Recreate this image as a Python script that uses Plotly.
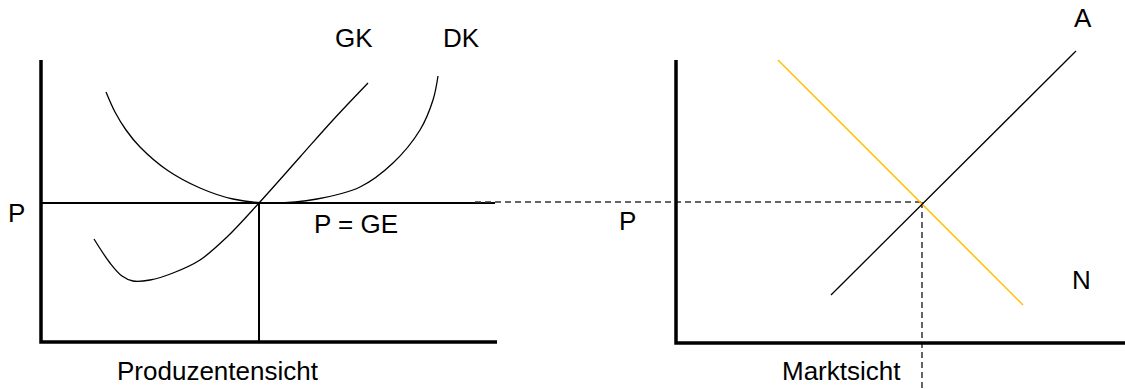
import plotly.graph_objects as go

# coordinate frame: x to the right, y upwards, one unit per screen pixel
W, H = 1125, 389

# left panel (Produzentensicht)
ax_left_x = [41, 41, 497]
ax_left_y = [329, 47, 47]
p_level = 186
q_star = 259
p_line_x = [41, 495]
q_line_y = [p_level, 47]

gk_x = [94, 110, 122, 133, 150, 173, 200, 227, 259, 300, 333, 368]
gk_y = [150, 126, 113, 108, 109, 116, 129, 152, 186, 232, 269, 306]

dk_x = [106, 115, 126, 140, 167, 200, 233, 273, 317, 360, 393, 420, 433, 438]
dk_y = [297, 277, 259, 242, 219, 201, 190, 186, 190, 202, 226, 259, 289, 313]

# right panel (Marktsicht)
ax_right_x = [676, 676, 1125]
ax_right_y = [329, 46, 46]
n_x = [778, 1023]
n_y = [329, 84]
a_x = [831, 1076]
a_y = [94, 338]
eq_x, eq_y = 922, 187
dash_h_x = [475, eq_x]
dash_v_y = [eq_y, 0]

# labels
label_text = ["GK", "DK", "P", "P = GE", "Produzentensicht", "P", "Marktsicht", "A", "N"]
label_x = [354, 461, 16, 356, 218, 627, 841, 1083, 1081]
label_y = [351, 351, 176, 165, 18, 168, 18, 371, 109]

fig = go.Figure()

black_thin = dict(color="black", width=1.3)

def add_line(x, y, line):
    fig.add_trace(go.Scatter(x=x, y=y, mode="lines", line=line, hoverinfo="skip"))

add_line(ax_left_x, ax_left_y, dict(color="black", width=3.5))
add_line(p_line_x, [p_level, p_level], dict(color="black", width=2.2))
add_line([q_star, q_star], q_line_y, dict(color="black", width=2))
add_line(gk_x, gk_y, dict(color="black", width=1.3, shape="spline", smoothing=1))
add_line(dk_x, dk_y, dict(color="black", width=1.3, shape="spline", smoothing=1))

add_line(dash_h_x, [eq_y, eq_y], dict(color="#333333", width=1.5, dash="6px,4px"))
add_line([eq_x, eq_x], dash_v_y, dict(color="#333333", width=1.5, dash="6px,4px"))
add_line(ax_right_x, ax_right_y, dict(color="black", width=3.5))
add_line(n_x, n_y, dict(color="#FFC000", width=1.5))
add_line(a_x, a_y, black_thin)

for t, x, y in zip(label_text, label_x, label_y):
    fig.add_annotation(x=x, y=y, text=t, showarrow=False,
                       font=dict(family="Liberation Sans", size=26, color="black"))

fig.update_xaxes(range=[0, W], visible=False, fixedrange=True)
fig.update_yaxes(range=[0, H], visible=False, fixedrange=True)
fig.update_layout(width=W, height=H, margin=dict(l=0, r=0, t=0, b=0),
                  plot_bgcolor="white", paper_bgcolor="white", showlegend=False)

# page body has an 8px default margin, remove it so the chart fills the window
fig.write_html("out.html", config={"displayModeBar": False},
               post_script="document.body.style.margin='0';document.body.style.overflow='hidden';")
